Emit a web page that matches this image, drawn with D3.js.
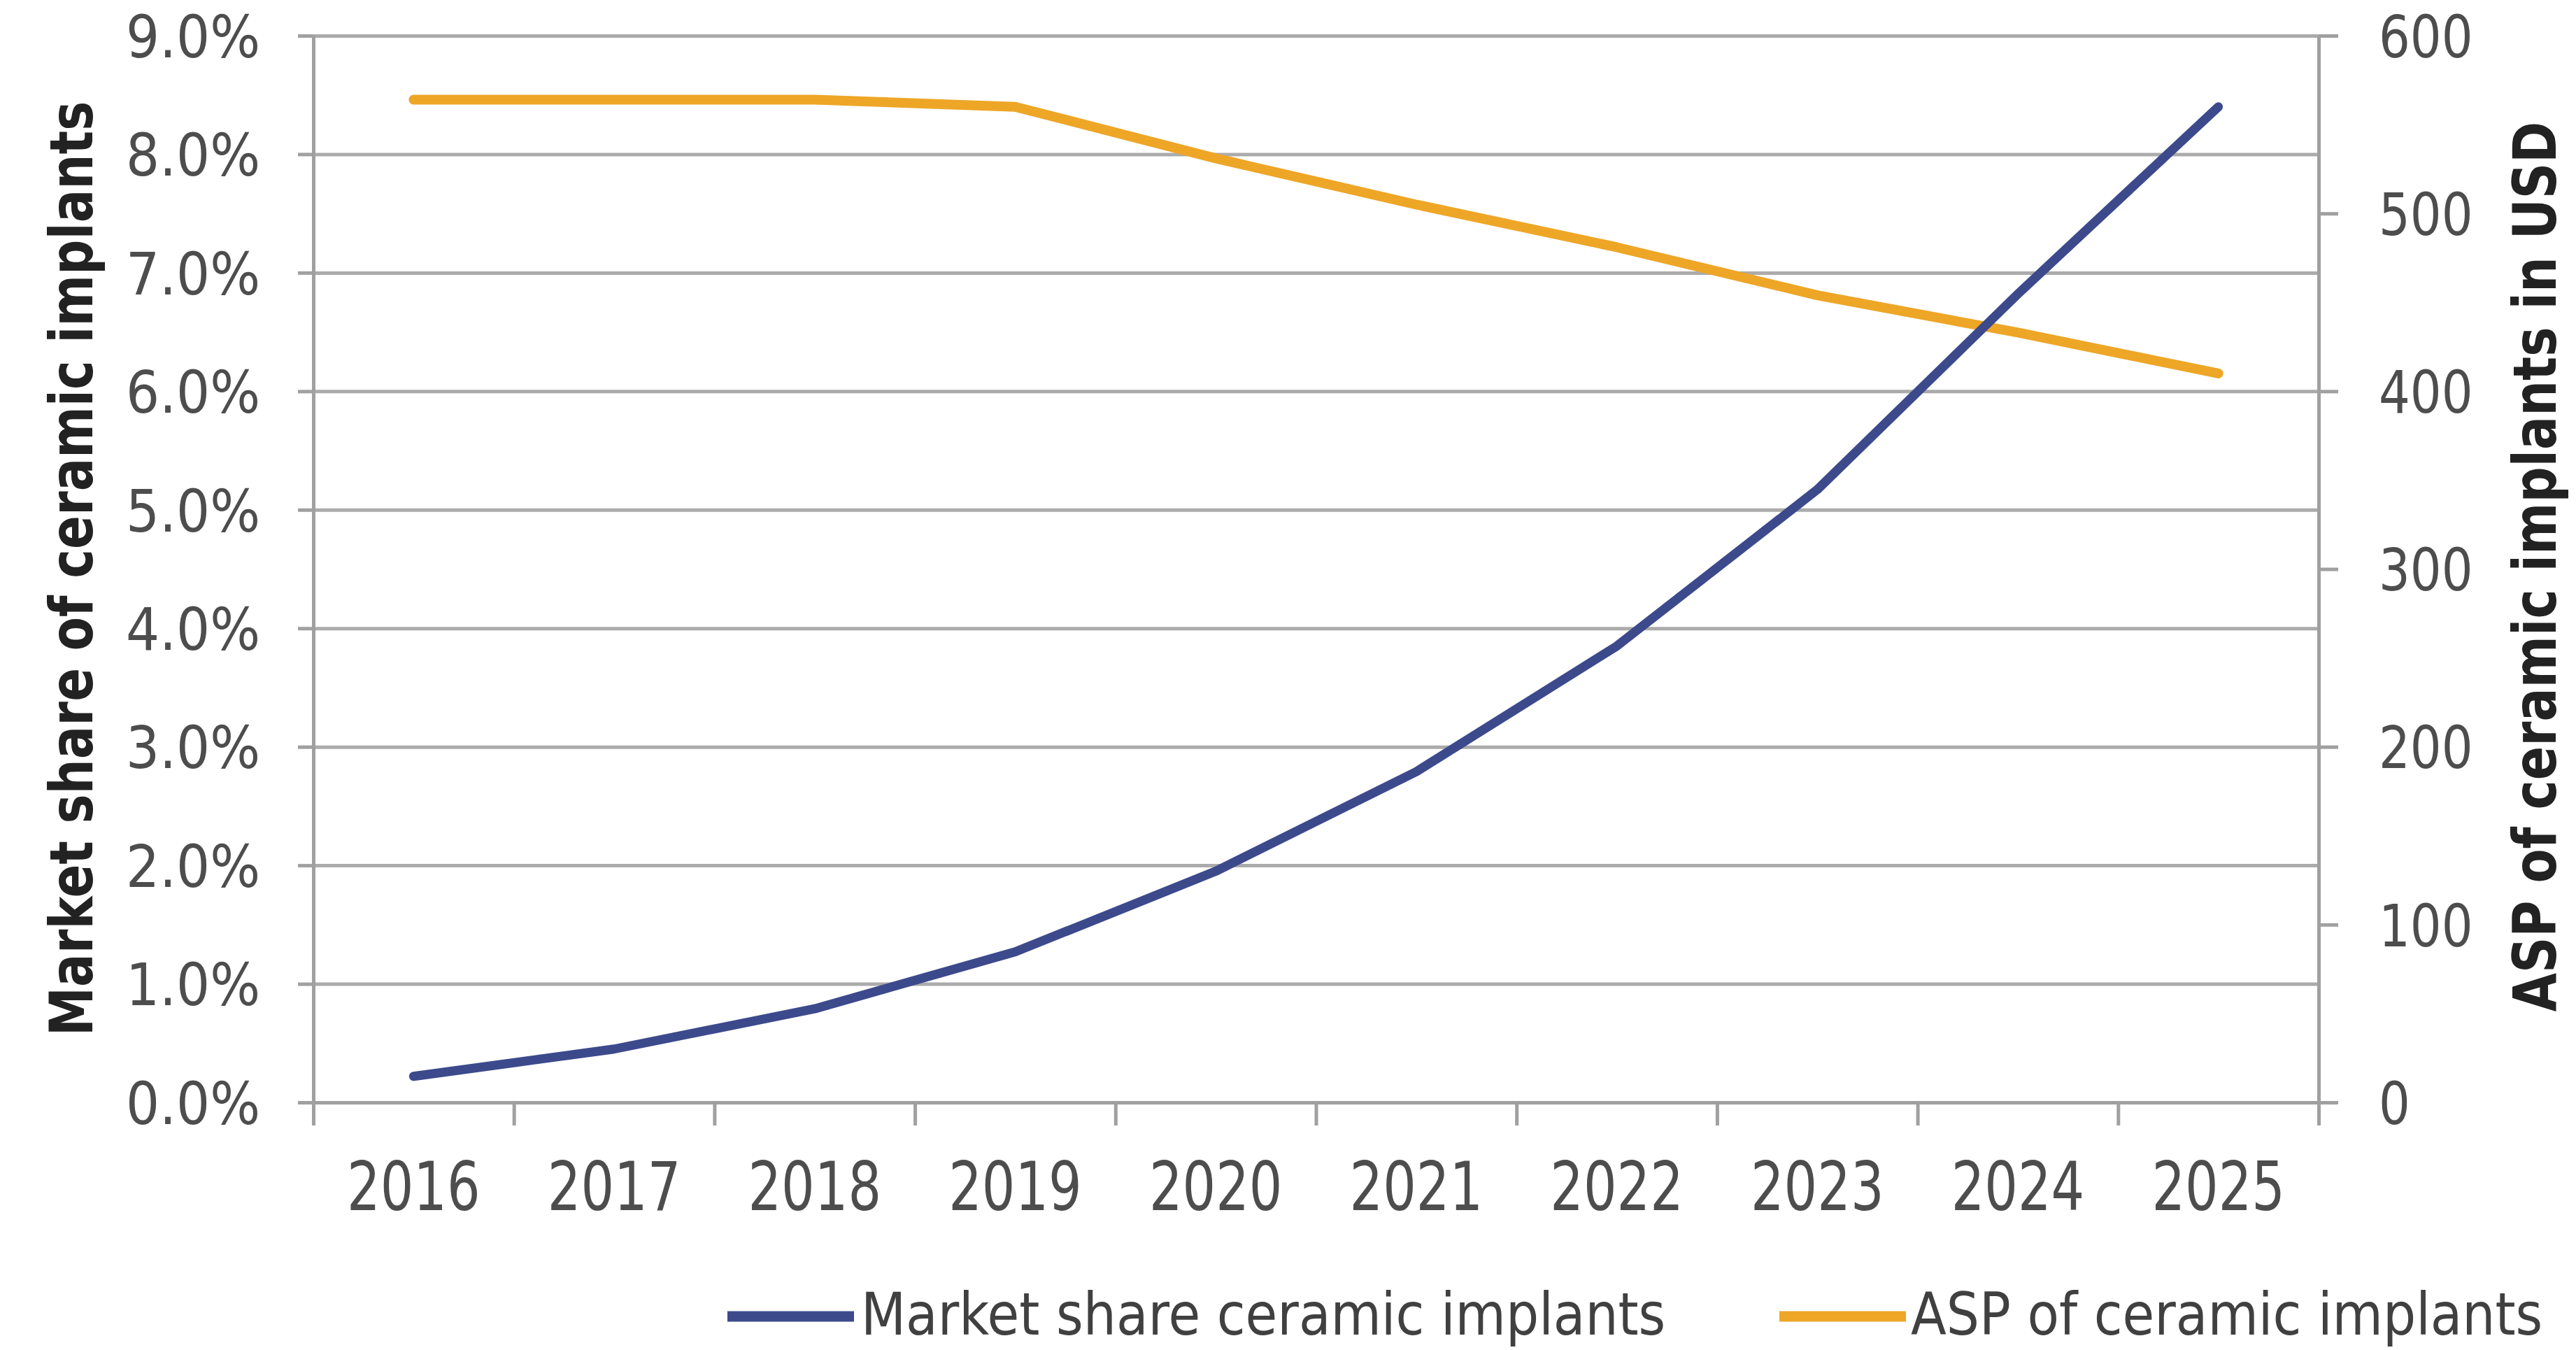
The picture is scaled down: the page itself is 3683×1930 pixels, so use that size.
<!DOCTYPE html>
<html>
<head>
<meta charset="utf-8">
<script src="https://cdn.jsdelivr.net/npm/d3@7"></script>
<style>
  html, body { margin: 0; padding: 0; background: #ffffff; }
  svg { display: block; }
</style>
</head>
<body>
<svg id="chart" width="3683" height="1930"></svg>
<script>
// ---- data ----
const years = ["2016", "2017", "2018", "2019", "2020", "2021", "2022", "2023", "2024", "2025"];
const marketShare = [0.22, 0.45, 0.79, 1.27, 1.95, 2.79, 3.85, 5.17, 6.82, 8.40]; // percent
const aspUSD = [564, 564, 564, 560, 531, 505, 481, 454, 433, 410];
const leftTicks = [0, 1, 2, 3, 4, 5, 6, 7, 8, 9];
const rightTicks = [0, 100, 200, 300, 400, 500, 600];
const seriesNames = ["Market share ceramic implants", "ASP of ceramic implants"];
const leftTitle = "Market share of ceramic implants";
const rightTitle = "ASP of ceramic implants in USD";

// ---- layout ----
const W = 3683, H = 1930;
const plot = { left: 448, right: 3315, top: 51, bottom: 1576 };
const blue = "#3c4a8c", orange = "#eea627";
const gridColor = "#ababab", axisColor = "#a0a0a0";
const tickText = "#4d4d4d";
const FONT = "'DejaVu Sans', Verdana, sans-serif";

const svg = d3.select("#chart");
svg.append("rect").attr("width", W).attr("height", H).attr("fill", "#fff");

const x = d3.scaleBand().domain(years).range([plot.left, plot.right]).padding(0);
const xEdge = d3.scaleLinear().domain([0, years.length]).range([plot.left, plot.right]);
const yL = d3.scaleLinear().domain([0, 9]).range([plot.bottom, plot.top]);
const yR = d3.scaleLinear().domain([0, 600]).range([plot.bottom, plot.top]);
const cx = d => x(d) + x.bandwidth() / 2;

function squeeze(sel, s) {
  sel.each(function () {
    const t = d3.select(this);
    const xv = +t.attr("x") || 0;
    t.attr("x", xv / s).attr("transform", `scale(${s},1)`);
  });
}

// gridlines
const grid = svg.append("g").attr("transform", `translate(${plot.left},0)`)
  .call(d3.axisLeft(yL).tickValues(leftTicks).tickSize(-(plot.right - plot.left)).tickFormat(""));
grid.select(".domain").remove();
grid.selectAll(".tick line").attr("stroke", gridColor).attr("stroke-width", 5);

// left axis
const gL = svg.append("g").attr("transform", `translate(${plot.left},0)`)
  .call(d3.axisLeft(yL).tickValues(leftTicks).tickSizeInner(22).tickSizeOuter(0).tickPadding(54)
    .tickFormat(d => d.toFixed(1) + "%"));
gL.select(".domain").attr("stroke", axisColor).attr("stroke-width", 5);
gL.selectAll(".tick line").attr("stroke", axisColor).attr("stroke-width", 5);
gL.selectAll(".tick text").attr("font-family", FONT).attr("font-size", 84)
  .attr("fill", tickText).attr("dy", "0.36em").call(squeeze, 0.9);

// right axis
const gR = svg.append("g").attr("transform", `translate(${plot.right},0)`)
  .call(d3.axisRight(yR).tickValues(rightTicks).tickSizeInner(28).tickSizeOuter(0).tickPadding(58));
gR.select(".domain").attr("stroke", axisColor).attr("stroke-width", 5);
gR.selectAll(".tick line").attr("stroke", axisColor).attr("stroke-width", 5);
gR.selectAll(".tick text").attr("font-family", FONT).attr("font-size", 84)
  .attr("fill", tickText).attr("dy", "0.36em").call(squeeze, 0.84);

// bottom axis: boundary ticks
const gB = svg.append("g").attr("transform", `translate(0,${plot.bottom})`)
  .call(d3.axisBottom(xEdge).tickValues(d3.range(0, years.length + 1)).tickSizeInner(33).tickSizeOuter(0).tickFormat(""));
gB.select(".domain").attr("stroke", axisColor).attr("stroke-width", 5);
gB.selectAll(".tick line").attr("stroke", axisColor).attr("stroke-width", 5);

// bottom axis: labels
const gBL = svg.append("g").attr("transform", `translate(0,${plot.bottom})`)
  .call(d3.axisBottom(x).tickSize(0).tickPadding(86));
gBL.select(".domain").remove();
gBL.selectAll(".tick text").attr("font-family", FONT).attr("font-size", 96)
  .attr("fill", tickText).call(squeeze, 0.78);

// lines
const lineShare = d3.line().x((d, i) => cx(years[i])).y(d => yL(d));
const lineAsp = d3.line().x((d, i) => cx(years[i])).y(d => yR(d));

svg.append("path").datum(aspUSD).attr("d", lineAsp)
  .attr("fill", "none").attr("stroke", orange).attr("stroke-width", 14)
  .attr("stroke-linejoin", "round").attr("stroke-linecap", "round");
svg.append("path").datum(marketShare).attr("d", lineShare)
  .attr("fill", "none").attr("stroke", blue).attr("stroke-width", 13)
  .attr("stroke-linejoin", "round").attr("stroke-linecap", "round");

// axis titles
svg.append("text").attr("transform", `translate(132,813) rotate(-90) scale(0.83,1)`)
  .attr("text-anchor", "middle").attr("font-family", FONT).attr("font-weight", "bold")
  .attr("font-size", 85).attr("fill", "#222").text(leftTitle);
svg.append("text").attr("transform", `translate(3654,810) rotate(-90) scale(0.84,1)`)
  .attr("text-anchor", "middle").attr("font-family", FONT).attr("font-weight", "bold")
  .attr("font-size", 85).attr("fill", "#222").text(rightTitle);

// legend
const legendItems = [
  { name: seriesNames[0], color: blue, x0: 1040, x1: 1221, tx: 1231 },
  { name: seriesNames[1], color: orange, x0: 2544, x1: 2725, tx: 2732 }
];
const lg = svg.append("g");
legendItems.forEach(it => {
  lg.append("line").attr("x1", it.x0).attr("x2", it.x1).attr("y1", 1882).attr("y2", 1882)
    .attr("stroke", it.color).attr("stroke-width", 15);
  lg.append("text").attr("transform", `translate(${it.tx},1908) scale(0.885,1)`)
    .attr("font-family", FONT).attr("font-size", 84).attr("fill", "#404040").text(it.name);
});
</script>
</body>
</html>
